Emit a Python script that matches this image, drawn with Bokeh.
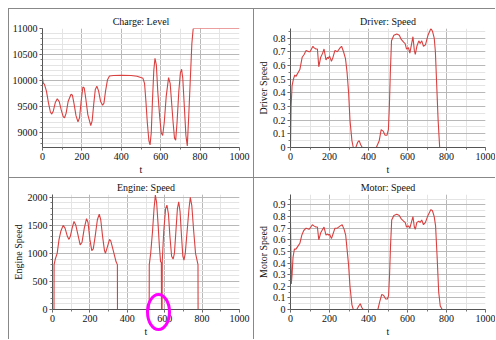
import numpy as np
from bokeh.plotting import figure
from bokeh.layouts import column, row
from bokeh.models import FixedTicker, CustomJSTickFormatter, Spacer, LinearAxis
from bokeh.embed import file_html
from bokeh.resources import INLINE

# ---------------- data ----------------
charge_t = [0, 3, 10, 20, 30, 40, 47, 55, 65, 75, 85, 95, 105, 112, 120, 130, 145, 152, 160, 170,
            180, 188, 196, 205, 212, 220, 230, 245, 252, 260, 268, 276, 285, 295, 305, 312, 320,
            330, 340, 360, 400, 450, 480, 510, 518, 525, 532, 540, 546, 552, 558, 565, 571, 578,
            585, 595, 603, 610, 618, 628, 640, 648, 655, 663, 670, 676, 683, 692, 700, 706, 712,
            720, 728, 735, 742, 750, 758, 765, 1000]
charge_level = [10050, 9960, 9930, 9800, 9580, 9400, 9360, 9420, 9580, 9655, 9600, 9440, 9310, 9290,
                9380, 9600, 9740, 9720, 9560, 9330, 9210, 9290, 9600, 9880, 9860, 9650, 9350, 9140,
                9230, 9550, 9830, 9895, 9800, 9600, 9530, 9570, 9800, 10020, 10090, 10100, 10105,
                10100, 10085, 10045, 9950, 9600, 9200, 8850, 8770, 9000, 9600, 10200, 10430, 10300,
                9800, 9300, 9000, 8950, 9200, 9700, 10060, 9950, 9600, 9200, 8900, 8860, 9200, 9800,
                10150, 10220, 10050, 9500, 8950, 8750, 9300, 10000, 10700, 11000, 11000]

driver_t = [0, 3, 8, 15, 22, 28, 40, 48, 60, 70, 80, 95, 100, 115, 120, 130, 138, 145, 155, 165,
            172, 182, 190, 195, 200, 210, 218, 228, 240, 255, 262, 272, 282, 290, 298, 305, 315,
            322, 335, 345, 352, 360, 368, 440, 455, 465, 475, 485, 495, 502, 507, 512, 518, 530,
            545, 558, 568, 580, 588, 595, 605, 612, 620, 628, 635, 640, 648, 658, 665, 673, 682,
            692, 705, 720, 728, 737, 743, 750, 757, 765, 1000]
driver_speed = [0.0, 0.30, 0.45, 0.50, 0.53, 0.52, 0.55, 0.57, 0.66, 0.68, 0.71, 0.70, 0.70, 0.74,
                0.73, 0.72, 0.72, 0.59, 0.66, 0.69, 0.72, 0.64, 0.66, 0.65, 0.67, 0.63, 0.66, 0.71,
                0.70, 0.73, 0.74, 0.70, 0.65, 0.55, 0.40, 0.20, 0.05, 0.0, 0.0, 0.04, 0.05, 0.02,
                0.0, 0.0, 0.05, 0.13, 0.12, 0.09, 0.09, 0.13, 0.30, 0.55, 0.78, 0.82, 0.83, 0.82,
                0.79, 0.77, 0.76, 0.72, 0.73, 0.69, 0.75, 0.81, 0.71, 0.68, 0.74, 0.78, 0.76, 0.78,
                0.74, 0.75, 0.82, 0.87, 0.85, 0.80, 0.70, 0.45, 0.20, 0.0, 0.0]

engine_t = [0, 8, 8.5, 15, 25, 35, 45, 57, 67, 80, 88, 95, 105, 115, 125, 135, 148, 158, 170, 182,
            190, 200, 210, 218, 228, 240, 250, 258, 268, 278, 283, 292, 305, 312, 325, 340, 347,
            347.5, 517, 517.5, 525, 535, 543, 550, 557, 565, 572, 578, 582, 583, 586, 587, 595,
            605, 612, 620, 628, 637, 645, 652, 660, 668, 675, 682, 690, 697, 703, 710, 720, 730,
            737, 745, 755, 765, 778, 778.5, 1000]
engine_speed = [0, 0, 800, 900, 1000, 1250, 1400, 1500, 1450, 1300, 1250, 1300, 1450, 1570, 1500,
                1350, 1150, 1200, 1450, 1620, 1550, 1250, 1050, 1080, 1300, 1600, 1700, 1600, 1300,
                1050, 1000, 1100, 1250, 1220, 1050, 850, 800, 0, 0, 800, 1000, 1400, 1800, 2040,
                1900, 1500, 1100, 850, 840, 0, 0, 870, 1400, 1800, 1860, 1700, 1300, 950, 900, 1000,
                1400, 1800, 1920, 1750, 1300, 950, 880, 1000, 1400, 1800, 2000, 1850, 1400, 1000,
                800, 0, 0]

motor_t = [0, 4, 8, 13, 20, 28, 40, 48, 58, 68, 80, 95, 100, 112, 120, 130, 138, 145, 155, 165,
           172, 182, 190, 195, 200, 210, 218, 228, 240, 255, 265, 275, 283, 290, 298, 305, 315,
           322, 340, 350, 358, 365, 372, 448, 458, 468, 478, 488, 497, 503, 508, 513, 519, 530,
           545, 558, 568, 580, 588, 595, 605, 612, 620, 628, 635, 640, 648, 658, 665, 673, 682,
           692, 705, 720, 728, 737, 744, 752, 760, 768, 778, 1000]
motor_speed = [0.75, 0.22, 0.30, 0.45, 0.52, 0.52, 0.55, 0.57, 0.64, 0.68, 0.70, 0.69, 0.70, 0.73,
               0.72, 0.71, 0.71, 0.60, 0.66, 0.69, 0.71, 0.64, 0.65, 0.64, 0.65, 0.61, 0.65, 0.70,
               0.70, 0.72, 0.73, 0.69, 0.64, 0.52, 0.38, 0.20, 0.04, 0.0, 0.0, 0.03, 0.05, 0.02,
               0.0, 0.0, 0.07, 0.13, 0.12, 0.09, 0.09, 0.12, 0.30, 0.55, 0.77, 0.81, 0.82, 0.81,
               0.78, 0.76, 0.75, 0.71, 0.72, 0.70, 0.75, 0.80, 0.71, 0.69, 0.75, 0.76, 0.75, 0.77,
               0.73, 0.75, 0.81, 0.86, 0.85, 0.80, 0.72, 0.45, 0.15, 0.03, 0.0, 0.0]

x_major = [0, 200, 400, 600, 800, 1000]
x_minor = [0, 100, 200, 300, 400, 500, 600, 700, 800, 900, 1000]
charge_major = [9000, 9500, 10000, 10500, 11000]
charge_minor = list(range(8700, 11001, 100))
speed_major = [0, 0.1, 0.2, 0.3, 0.4, 0.5, 0.6, 0.7, 0.8, 0.9]
speed_minor = [round(0.05 * i, 2) for i in range(0, 21)]
engine_major = [0, 500, 1000, 1500, 2000]
engine_minor = list(range(0, 2101, 100))

# highlight ring (annotation) centre in data units of the Engine plot
ring_center = (598, 40)

FONT = "'Liberation Serif', 'Times New Roman', serif"
RED = "#d94040"


def style_axis(ax):
    ax.axis_label_text_font = FONT
    ax.axis_label_text_font_size = "10px"
    ax.axis_label_text_font_style = "normal"
    ax.axis_label_text_color = "#111"
    ax.axis_label_standoff = 1
    ax.major_label_text_font = FONT
    ax.major_label_text_font_size = "10px"
    ax.major_label_text_color = "#111"
    ax.major_label_standoff = 2
    ax.axis_line_color = "#555"
    ax.major_tick_line_color = "#555"
    ax.minor_tick_line_color = "#777"
    ax.major_tick_out = 3
    ax.major_tick_in = 0
    ax.minor_tick_out = 2
    ax.minor_tick_in = 0


def make_fig(title, ylabel, t, v, yr, ymaj, ymin, w, h, bl, br, bt, bb, toff):
    p = figure(width=w, height=h, x_range=(0, 1000), y_range=yr,
               output_backend="svg", toolbar_location=None,
               x_axis_location=None, y_axis_location=None,
               min_border_left=bl, min_border_right=br, min_border_top=bt, min_border_bottom=bb)
    p.line(t, v, line_color=RED, line_width=1.1)
    p.title.text = title
    p.title.align = "center"
    p.title.offset = toff
    p.title.standoff = 3
    p.title.text_font = FONT
    p.title.text_font_size = "10px"
    p.title.text_font_style = "normal"
    p.title.text_color = "#111"
    xa = LinearAxis(ticker=FixedTicker(ticks=x_major, minor_ticks=x_minor), axis_label="t")
    ya = LinearAxis(ticker=FixedTicker(ticks=ymaj, minor_ticks=ymin),
                    formatter=CustomJSTickFormatter(code="return String(Math.round(tick*1000)/1000)"),
                    axis_label=ylabel)
    style_axis(xa)
    style_axis(ya)
    p.add_layout(xa, "below")
    p.add_layout(ya, "left")
    p.xgrid.ticker = xa.ticker
    p.ygrid.ticker = ya.ticker
    for g in (p.xgrid, p.ygrid):
        g.grid_line_color = "#b8b8b8"
        g.minor_grid_line_color = "#e4e4e4"
    p.outline_line_color = None
    p.background_fill_color = "white"
    p.border_fill_color = "white"
    return p


W1, W2, H1, H2 = 244, 241, 168, 161
p1 = make_fig("Charge: Level", None, charge_t, charge_level, (8720, 11000), charge_major, charge_minor,
              W1, H1, 29, 14, 19, 27, -7)
p2 = make_fig("Driver: Speed", "Driver Speed", driver_t, driver_speed, (0, 0.87), speed_major, speed_minor,
              W2, H1, 31, 10, 15, 29, -6)
E_TOP = 2050
EBL, EBR, EBT, EBB = 37, 14, 15, 22
p3 = make_fig("Engine: Speed", "Engine Speed", engine_t, engine_speed, (0, E_TOP), engine_major, engine_minor,
              W1, H2, EBL, EBR, EBT, EBB, -11)
p4 = make_fig("Motor: Speed", "Motor Speed", motor_t, motor_speed, (0, 0.99), speed_major, speed_minor,
              W2, H2, 31, 10, 15, 22, -6)

# magenta highlight ring drawn as an overlay on the Engine figure (not clipped to the frame)
fw = W1 - EBL - EBR
fh = H2 - EBT - EBB
cx = EBL + ring_center[0] / 1000 * fw
cy = EBT + (E_TOP - ring_center[1]) / E_TOP * fh
RW, RH, RB = 31, 44, 3
css = (":host::after { content: ''; position: absolute; z-index: 50; pointer-events: none; "
       f"left: {cx - RW / 2:.1f}px; top: {cy - RH / 2:.1f}px; width: {RW - 2 * RB}px; height: {RH - 2 * RB}px; "
       f"border: {RB}px solid #ff00ff; border-radius: 50%; }}")
p3.stylesheets = [css]

LINE = "#888888"


def hline(w):
    return Spacer(width=w, height=1, styles={"background-color": LINE})


def vline(h):
    return Spacer(width=1, height=h, styles={"background-color": LINE})


grid = column(hline(1 + W1 + 1 + W2),
              row(vline(H1), p1, vline(H1), p2),
              hline(1 + W1 + 1 + W2),
              row(vline(H2), p3, vline(H2), p4))
layout = row(Spacer(width=8, height=8), column(Spacer(width=8, height=8), grid))

open("out.html", "w").write(file_html(layout, INLINE))
